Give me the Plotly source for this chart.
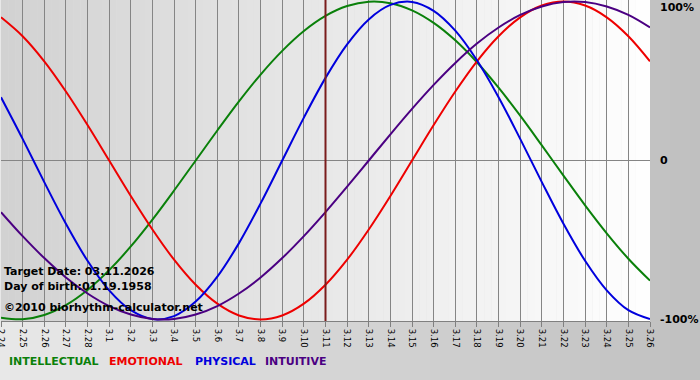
import plotly.graph_objects as go

# ---------------- data ----------------
DATES = ["2.24", "2.25", "2.26", "2.27", "2.28", "3.1", "3.2", "3.3", "3.4", "3.5",
         "3.6", "3.7", "3.8", "3.9", "3.10", "3.11", "3.12", "3.13", "3.14", "3.15",
         "3.16", "3.17", "3.18", "3.19", "3.20", "3.21", "3.22", "3.23", "3.24", "3.25",
         "3.26"]

INTELLECTUAL = [-0.990, -0.999, -0.972, -0.910, -0.815, -0.690, -0.541, -0.372, -0.189, 0.0,
                0.189, 0.372, 0.541, 0.690, 0.815, 0.910, 0.972, 0.999, 0.990, 0.945,
                0.866, 0.756, 0.618, 0.458, 0.282, 0.095, -0.095, -0.282, -0.458, -0.618,
                -0.756]
EMOTIONAL = [0.901, 0.782, 0.624, 0.434, 0.223, 0.0, -0.223, -0.434, -0.624, -0.782,
             -0.901, -0.975, -1.0, -0.975, -0.901, -0.782, -0.624, -0.434, -0.223, 0.0,
             0.223, 0.434, 0.624, 0.782, 0.901, 0.975, 1.0, 0.975, 0.901, 0.782,
             0.624]
PHYSICAL = [0.398, 0.136, -0.136, -0.398, -0.631, -0.817, -0.942, -0.998, -0.979, -0.888,
            -0.731, -0.520, -0.270, 0.0, 0.270, 0.520, 0.731, 0.888, 0.979, 0.998,
            0.942, 0.817, 0.631, 0.398, 0.136, -0.136, -0.398, -0.631, -0.817, -0.942,
            -0.998]
INTUITIVE = [-0.325, -0.476, -0.614, -0.736, -0.837, -0.916, -0.969, -0.997, -0.997, -0.969,
             -0.916, -0.837, -0.736, -0.614, -0.476, -0.325, -0.165, 0.0, 0.165, 0.325,
             0.476, 0.614, 0.736, 0.837, 0.916, 0.969, 0.997, 0.997, 0.969, 0.916,
             0.837]

SERIES_NAMES = ["INTELLECTUAL", "EMOTIONAL", "PHYSICAL", "INTUITIVE"]
SERIES_VALUES = [INTELLECTUAL, EMOTIONAL, PHYSICAL, INTUITIVE]
SERIES_COLORS = ["#0a800a", "#ee0000", "#0000dd", "#4b0082"]

Y_TICK_VALUES = [1, 0, -1]
Y_TICK_TEXT = ["100%", "0", "-100%"]

TARGET = "3.11"
INFO_LINES = ["Target Date: 03.11.2026", "Day of birth:01.19.1958",
              "\u00a92010 biorhythm-calculator.net"]

# ---------------- layout constants ----------------
W, H = 700, 380
ML, MR, MT, MB = 1, 50, 0, 59
PW = W - ML - MR
PH = H - MT - MB
FONT = "DejaVu Sans"


def px_x(p):
    return (p - ML) / PW


def px_y(p):
    return (H - MB - p) / PH


def grey(v):
    v = int(round(v))
    return f"rgb({v},{v},{v})"


fig = go.Figure()

for name, vals, col in zip(SERIES_NAMES, SERIES_VALUES, SERIES_COLORS):
    fig.add_trace(go.Scatter(x=DATES, y=vals, mode="lines", name=name,
                             line=dict(color=col, width=2, shape="spline"),
                             hoverinfo="skip"))

shapes = []
# paper background gradient (light left -> darker right)
N = 70
x_left, x_right = px_x(0), px_x(W)
y_bot, y_top = px_y(H), px_y(0)
for i in range(N):
    f = i / (N - 1)
    x0 = x_left + (x_right - x_left) * i / N
    x1 = x_left + (x_right - x_left) * (i + 1.05) / N
    shapes.append(dict(type="rect", xref="paper", yref="paper", x0=x0, x1=x1,
                       y0=y_bot, y1=y_top, fillcolor=grey(232 - 40 * f),
                       line=dict(width=0), layer="below"))
# plot area gradient (grey left -> white right)
N2 = 90
for i in range(N2):
    f = i / (N2 - 1)
    x0 = i / N2
    x1 = min(1.0, (i + 1.05) / N2)
    shapes.append(dict(type="rect", xref="paper", yref="paper", x0=x0, x1=x1,
                       y0=0, y1=1, fillcolor=grey(210 + 44 * f),
                       line=dict(width=0), layer="below"))
# target-date line
shapes.append(dict(type="line", xref="x", yref="paper",
                   x0=DATES.index(TARGET), x1=DATES.index(TARGET), y0=0, y1=1,
                   line=dict(color="#7a1c1c", width=2), layer="above"))

annotations = []
# right-hand percentage labels
for v, t in zip(Y_TICK_VALUES, Y_TICK_TEXT):
    annotations.append(dict(xref="paper", yref="y", x=1, y=v, xanchor="left",
                            yanchor="middle", xshift=8, yshift=-6 if v == 1 else 0,
                            text=t, showarrow=False,
                            font=dict(family=FONT, size=11, color="#000", weight="bold")))
# info text
for t, py in zip(INFO_LINES, [271, 286, 307]):
    annotations.append(dict(xref="paper", yref="paper", x=px_x(2), y=px_y(py),
                            xanchor="left", yanchor="middle", text=t, showarrow=False,
                            font=dict(family=FONT, size=11, color="#000", weight="bold")))
# legend text
for name, col, pxl in zip(SERIES_NAMES, SERIES_COLORS, [7, 107, 193, 263]):
    annotations.append(dict(xref="paper", yref="paper", x=px_x(pxl), y=px_y(361),
                            xanchor="left", yanchor="middle", text=name, showarrow=False,
                            font=dict(family=FONT, size=11, color=col, weight="bold")))

fig.update_layout(
    width=W, height=H,
    margin=dict(l=ML, r=MR, t=MT, b=MB, pad=0),
    paper_bgcolor="#d0d0d0",
    plot_bgcolor="rgba(0,0,0,0)",
    showlegend=False,
    shapes=shapes,
    annotations=annotations,
    xaxis=dict(type="category", range=[0, len(DATES) - 1],
               tickmode="array", tickvals=DATES, ticktext=DATES,
               tickangle=90, tickfont=dict(family=FONT, size=8.5, color="#000"),
               ticks="outside", ticklen=5, tickcolor="#808080",
               showgrid=True, gridcolor="#858585", gridwidth=1,
               showline=True, linecolor="#808080", linewidth=1,
               zeroline=False, fixedrange=True, automargin=False),
    yaxis=dict(range=[-1.01, 1.01], showgrid=False, zeroline=True,
               zerolinecolor="#858585", zerolinewidth=1, showticklabels=False,
               ticks="", side="right", fixedrange=True, automargin=False),
)

fig.write_html("out.html",
               config={"displayModeBar": False},
               post_script="document.body.style.margin='0';document.body.style.padding='0';")
